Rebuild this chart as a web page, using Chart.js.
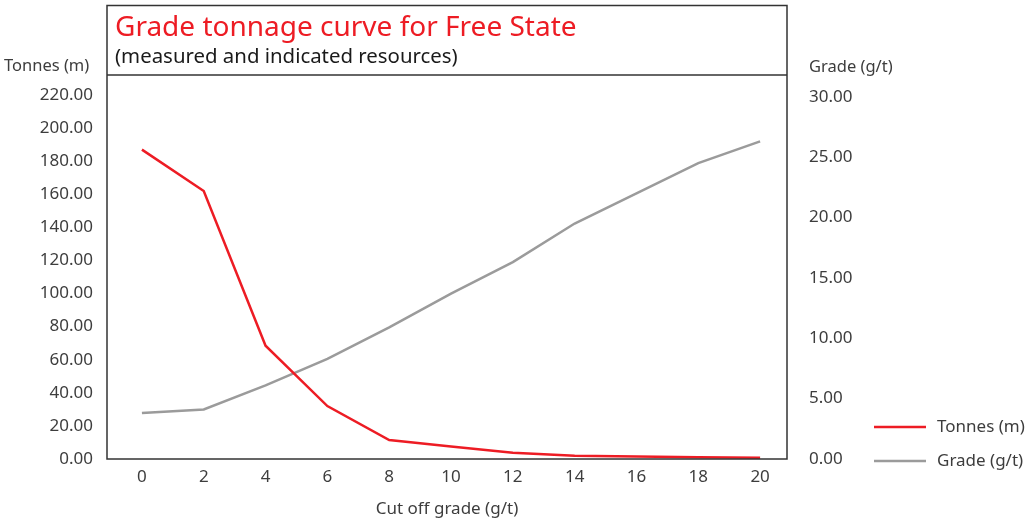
<!DOCTYPE html>
<html lang="en">
<head>
<meta charset="UTF-8">
<title>Grade tonnage curve for Free State</title>
<script src="https://cdn.jsdelivr.net/npm/chart.js"></script>
<style>
    body { margin: 0; background: #ffffff; }
    .wrap { position: relative; width: 1035px; height: 522px; }
</style>
</head>
<body>
<div class="wrap"><canvas id="gtChart"></canvas></div>
<script>
// values
var cutOff = [0, 2, 4, 6, 8, 10, 12, 14, 16, 18, 20];
var tonnes = [187, 162, 68.5, 32, 11.5, 7.5, 3.8, 2.0, 1.5, 1.0, 0.8];
var grade = [3.8, 4.1, 6.1, 8.3, 10.9, 13.7, 16.3, 19.5, 22.0, 24.5, 26.3];

var cutOffTicks = [0, 2, 4, 6, 8, 10, 12, 14, 16, 18, 20];
var tonnesTicks = [0, 20, 40, 60, 80, 100, 120, 140, 160, 180, 200, 220];
var gradeTicks = [0, 5, 10, 15, 20, 25, 30];

var RED = '#ed1c24';
var GREY = '#9b9b9b';
var TXT = '#3d3d3d';
var FONT = '"Noto Sans", sans-serif';

function pts(xs, ys) {
    return xs.map(function (x, i) { return { x: x, y: ys[i] }; });
}

// box, title text, axis headings and legend
var frame = {
    id: 'frame',
    afterDraw: function (chart) {
        var c = chart.ctx, a = chart.chartArea;
        c.save();
        c.strokeStyle = '#333333';
        c.lineWidth = 1.5;
        c.strokeRect(a.left, 5.5, a.right - a.left, a.bottom - 5.5);
        c.beginPath();
        c.moveTo(a.left, a.top);
        c.lineTo(a.right, a.top);
        c.stroke();

        c.textBaseline = 'alphabetic';
        c.textAlign = 'left';
        c.fillStyle = RED;
        c.font = '28px ' + FONT;
        c.fillText('Grade tonnage curve for Free State', a.left + 8, 36);
        c.fillStyle = '#1a1a1a';
        c.font = '20.4px ' + FONT;
        c.fillText('(measured and indicated resources)', a.left + 8, 63);

        c.fillStyle = TXT;
        c.font = '16.5px ' + FONT;
        c.fillText('Tonnes (m)', 4, 71);
        c.fillText('Grade (g/t)', 809, 72);

        // legend
        var rows = [427, 461];
        c.font = '17px ' + FONT;
        chart.data.datasets.forEach(function (ds, i) {
            c.strokeStyle = ds.borderColor;
            c.lineWidth = 2.5;
            c.beginPath();
            c.moveTo(874, rows[i]);
            c.lineTo(926, rows[i]);
            c.stroke();
            c.fillStyle = TXT;
            c.textBaseline = 'middle';
            c.fillText(ds.label, 937, rows[i]);
        });
        c.restore();
    }
};

var ctx = document.getElementById('gtChart').getContext('2d');
var gtChart = new Chart(ctx, {
    type: 'line',
    data: {
        datasets: [{
            label: 'Tonnes (m)',
            data: pts(cutOff, tonnes),
            borderColor: RED,
            borderWidth: 2.5,
            pointRadius: 0,
            yAxisID: 'y'
        }, {
            label: 'Grade (g/t)',
            data: pts(cutOff, grade),
            borderColor: GREY,
            borderWidth: 2.5,
            pointRadius: 0,
            yAxisID: 'y1'
        }]
    },
    options: {
        responsive: true,
        maintainAspectRatio: false,
        animation: false,
        layout: { padding: { top: 75, left: 0, right: 0, bottom: 0 } },
        plugins: {
            legend: { display: false },
            tooltip: { enabled: false }
        },
        scales: {
            x: {
                type: 'linear',
                min: -1.13,
                max: 20.87,
                afterBuildTicks: function (s) {
                    s.ticks = cutOffTicks.map(function (v) { return { value: v }; });
                },
                afterFit: function (s) { s.height = 63; },
                grid: { display: false, drawTicks: false },
                border: { display: false },
                ticks: { font: { family: FONT, size: 17 }, color: TXT, padding: 8, maxRotation: 0 },
                title: {
                    display: true,
                    text: 'Cut off grade (g/t)',
                    font: { family: FONT, size: 17 },
                    color: TXT,
                    padding: { top: 4, bottom: 3 }
                }
            },
            y: {
                position: 'left',
                min: 0,
                max: 232.1,
                afterBuildTicks: function (s) {
                    s.ticks = tonnesTicks.map(function (v) { return { value: v }; });
                },
                afterFit: function (s) { s.width = 107; },
                grid: { display: false, drawTicks: false },
                border: { display: false },
                ticks: {
                    font: { family: FONT, size: 17 }, color: TXT, padding: 14,
                    callback: function (v) { return v.toFixed(2); }
                }
            },
            y1: {
                position: 'right',
                min: 0,
                max: 31.8,
                afterBuildTicks: function (s) {
                    s.ticks = gradeTicks.map(function (v) { return { value: v }; });
                },
                afterFit: function (s) { s.width = 248; },
                grid: { display: false, drawTicks: false },
                border: { display: false },
                ticks: {
                    font: { family: FONT, size: 17 }, color: TXT, padding: 22,
                    callback: function (v) { return v.toFixed(2); }
                }
            }
        }
    },
    plugins: [frame]
});
</script>
</body>
</html>
